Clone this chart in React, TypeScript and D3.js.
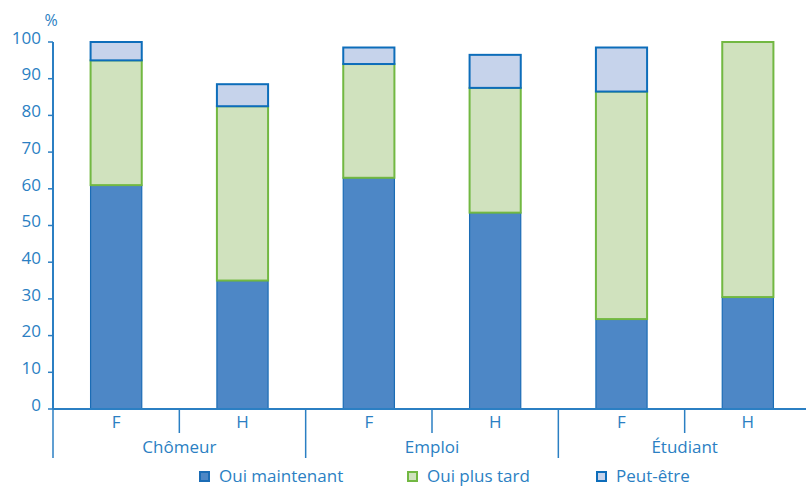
import React from "react";
import * as d3 from "d3";

const groups = ["Chômeur", "Emploi", "Étudiant"];
const sexes = ["F", "H"];
const ouiMaintenant = [61, 35, 63, 53.5, 24.5, 30.5];
const ouiPlusTard = [34, 47.5, 31, 34, 62, 69.5];
const peutEtre = [5, 6, 4.5, 9, 12, 0];
const seriesNames = ["Oui maintenant", "Oui plus tard", "Peut-être"];
const yTicks = [0, 10, 20, 30, 40, 50, 60, 70, 80, 90, 100];

const W = 806, H = 486;
const M = { left: 53, top: 42, bottom: 77 };
const X_END = 811;
const TXT = "#2b7fc3";
const fills = ["#4d87c6", "#d0e2be", "#c6d3eb"];
const strokes = ["#1b6cb5", "#72b842", "#0d6dba"];
const FONT = "'Open Sans', 'DejaVu Sans', sans-serif";

export default function App() {
  const cats = groups.flatMap((g) => sexes.map((s) => g + "|" + s));
  const x = d3.scaleBand().domain(cats).range([M.left, X_END]).paddingInner(0.595).paddingOuter(0.2975);
  const y = d3.scaleLinear().domain([0, 100]).range([H - M.bottom, M.top]);
  const y0 = y(0);
  const data = cats.map((c, i) => ({ c, v: [ouiMaintenant[i], ouiPlusTard[i], peutEtre[i]] }));
  const stack = d3.stack<any>().keys(["0", "1", "2"]).value((d, k) => d.v[+k]);
  const series = stack(data);
  const step = x.step();
  const gw = step * 2;

  return (
    <svg width={W} height={H} style={{ position: "absolute", left: 0, top: 0, fontFamily: FONT }}>
      {series.map((s, si) =>
        s.map((d, i) => {
          const h = y(d[0]) - y(d[1]);
          if (h <= 0) return null;
          return (
            <rect key={si + "-" + i} x={x(cats[i])!} y={y(d[1])} width={x.bandwidth()} height={h}
              fill={fills[si]} stroke={strokes[si]} strokeWidth={si === 0 ? 1.2 : 2} />
          );
        })
      )}
      {/* y axis */}
      <line x1={M.left} x2={M.left} y1={y(100)} y2={y0} stroke={TXT} strokeWidth={2} />
      {yTicks.map((t) => (
        <g key={t}>
          <line x1={M.left - 5} x2={M.left} y1={y(t)} y2={y(t)} stroke={TXT} strokeWidth={1.5} />
          <text x={41} y={y(t)} dy="0.1em" textAnchor="end" fontSize={17} fill={TXT}>{t}</text>
        </g>
      ))}
      <text x={51} y={26} textAnchor="middle" fontSize={16} fill={TXT}>%</text>
      {/* x axis */}
      <line x1={M.left} x2={W} y1={y0} y2={y0} stroke={TXT} strokeWidth={2} />
      {groups.map((g, gi) => {
        const gx = M.left + gi * gw;
        return (
          <g key={g}>
            <line x1={gx} x2={gx} y1={y0} y2={458} stroke={TXT} strokeWidth={1.5} />
            <line x1={gx + step} x2={gx + step} y1={y0} y2={433} stroke={TXT} strokeWidth={1.5} />
            <text x={gx + step} y={453} textAnchor="middle" fontSize={17} fill={TXT}>{g}</text>
          </g>
        );
      })}
      {cats.map((c) => (
        <text key={c} x={x(c)! + x.bandwidth() / 2} y={428} textAnchor="middle" fontSize={17} fill={TXT}>{c.split("|")[1]}</text>
      ))}
      {/* legend */}
      {seriesNames.map((n, i) => {
        const lx = [199, 407, 596][i];
        return (
          <g key={n}>
            <rect x={lx + 1} y={472} width={9} height={9} fill={fills[i]} stroke={strokes[i]} strokeWidth={2} />
            <text x={lx + 20} y={482} fontSize={17} fill={TXT}>{n}</text>
          </g>
        );
      })}
    </svg>
  );
}
